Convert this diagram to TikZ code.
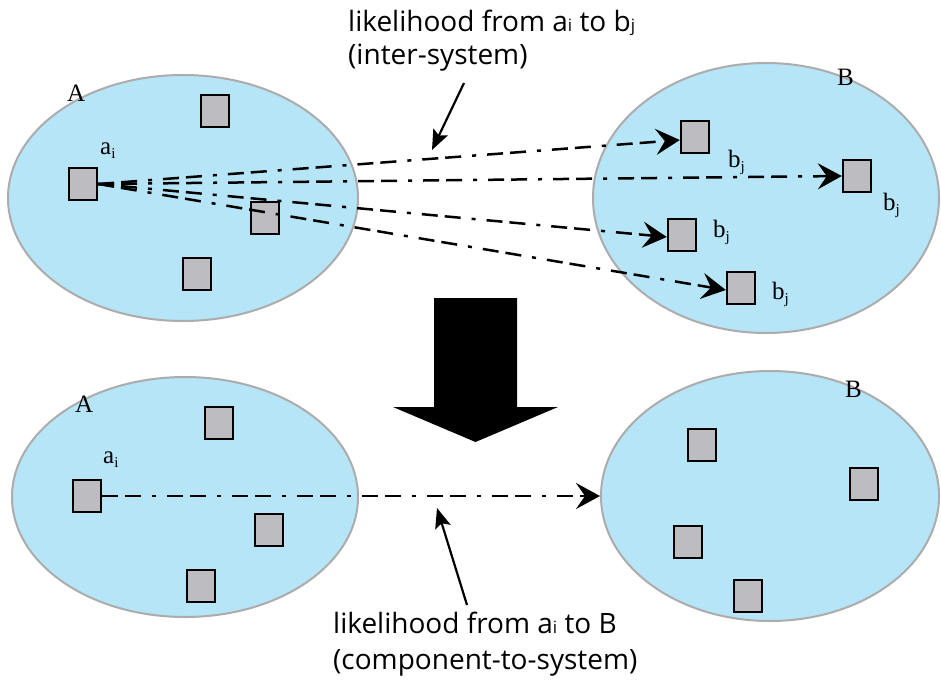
\documentclass[tikz,border=0pt]{standalone}
\usepackage{fontspec}
\setmainfont{Liberation Serif}
\newfontfamily\notesans{Open Sans}
\usetikzlibrary{arrows.meta,shapes.geometric}
\definecolor{sysfill}{RGB}{182,229,247}
\definecolor{sysline}{RGB}{172,172,172}
\definecolor{compfill}{RGB}{188,188,193}
\newcommand\lowsub[1]{\raisebox{-4pt}{\fontsize{15}{15}\selectfont #1}}
\newcommand\sanssub[1]{{\fontsize{17}{17}\selectfont #1}}
\begin{document}
\begin{tikzpicture}[x=1pt,y=1pt,yscale=-1,
  system/.style={ellipse, draw=sysline, fill=sysfill, line width=2pt, inner sep=0pt},
  comp/.style={rectangle, draw=black, fill=compfill, line width=2.4pt, minimum width=28pt, minimum height=32pt, inner sep=0pt},
  lab/.style={anchor=base west, inner sep=0pt, font=\fontsize{25}{25}\selectfont},
  note/.style={anchor=base west, inner sep=0pt, font=\notesans\fontsize{28}{28}\selectfont},
  flow/.style={line width=2.5pt, dash pattern=on 16pt off 7pt on 16pt off 11pt on 4pt off 11pt,
    >={Stealth[length=24pt,width=26pt,inset=9pt]}, ->},
  pointer/.style={line width=2.2pt, >={Stealth[length=20pt,width=16pt,inset=4pt]}, ->},
  bigarrow/.style={fill=black, draw=none}]
\useasboundingbox (0,0) rectangle (941,682);
\fill[white] (0,0) rectangle (941,682);

% ---------- top row ----------
\node[system, minimum width=350pt, minimum height=246pt] (A1) at (183,198) {};
\node[system, minimum width=346pt, minimum height=270pt] (B1) at (766,198) {};

\node[comp] (a1) at (83,184) {};
\node[comp] (a1t) at (215,111) {};
\node[comp] (a1m) at (265,218) {};
\node[comp] (a1b) at (197,274) {};

\node[comp] (b1) at (695,137) {};
\node[comp] (b2) at (857,176) {};
\node[comp] (b3) at (682,235) {};
\node[comp] (b4) at (741,288) {};

\node[lab] (labA1) at (67,102) {A};
\node[lab] (labai1) at (100,154) {a\lowsub{i}};
\node[lab] (labB1) at (837,86) {B};
\node[lab] (labb1) at (728,167) {b\lowsub{j}};
\node[lab] (labb2) at (883,210) {b\lowsub{j}};
\node[lab] (labb3) at (713,237) {b\lowsub{j}};
\node[lab] (labb4) at (772,299) {b\lowsub{j}};

\draw[flow] (a1.east) -- ([yshift=3pt]b1.west);
\draw[flow] (a1.east) -- (b2.west);
\draw[flow] (a1.east) -- ([yshift=2pt]b3.west);
\draw[flow] (a1.east) -- ([yshift=2pt]b4.west);

\node[note] (t1) at (348,32) {likelihood from a\sanssub{i} to b\sanssub{j}};
\node[note] (t2) at (348,65) {(inter-system)};
\coordinate (p1s) at (464,83);
\coordinate (p1e) at (432,150);
\draw[pointer] (p1s) -- (p1e);

% ---------- big arrow ----------
\fill[bigarrow] (434,298) -- (517,298) -- (517,407) -- (558,407) -- (475.5,442)
  -- (393,407) -- (434,407) -- cycle;

% ---------- bottom row ----------
\node[system, minimum width=346pt, minimum height=240pt] (A2) at (185,497) {};
\node[system, minimum width=338pt, minimum height=250pt] (B2) at (770,496) {};

\node[comp] (a2) at (87,496) {};
\node[comp] (a2t) at (219,423) {};
\node[comp] (a2m) at (269,530) {};
\node[comp] (a2b) at (201,586) {};

\node[comp] (c1) at (702,445) {};
\node[comp] (c2) at (864,484) {};
\node[comp] (c3) at (688,542) {};
\node[comp] (c4) at (748,596) {};

\node[lab] (labA2) at (75,412) {A};
\node[lab] (labai2) at (103,463) {a\lowsub{i}};
\node[lab] (labB2) at (845,397) {B};

\draw[flow] (a2.east) -- (B2.west);

\coordinate (p2s) at (467,605);
\coordinate (p2e) at (437,508);
\draw[pointer] (p2s) -- (p2e);
\node[note] (t3) at (333,633) {likelihood from a\sanssub{i} to B};
\node[note] (t4) at (333,669) {(component-to-system)};
\end{tikzpicture}
\end{document}
